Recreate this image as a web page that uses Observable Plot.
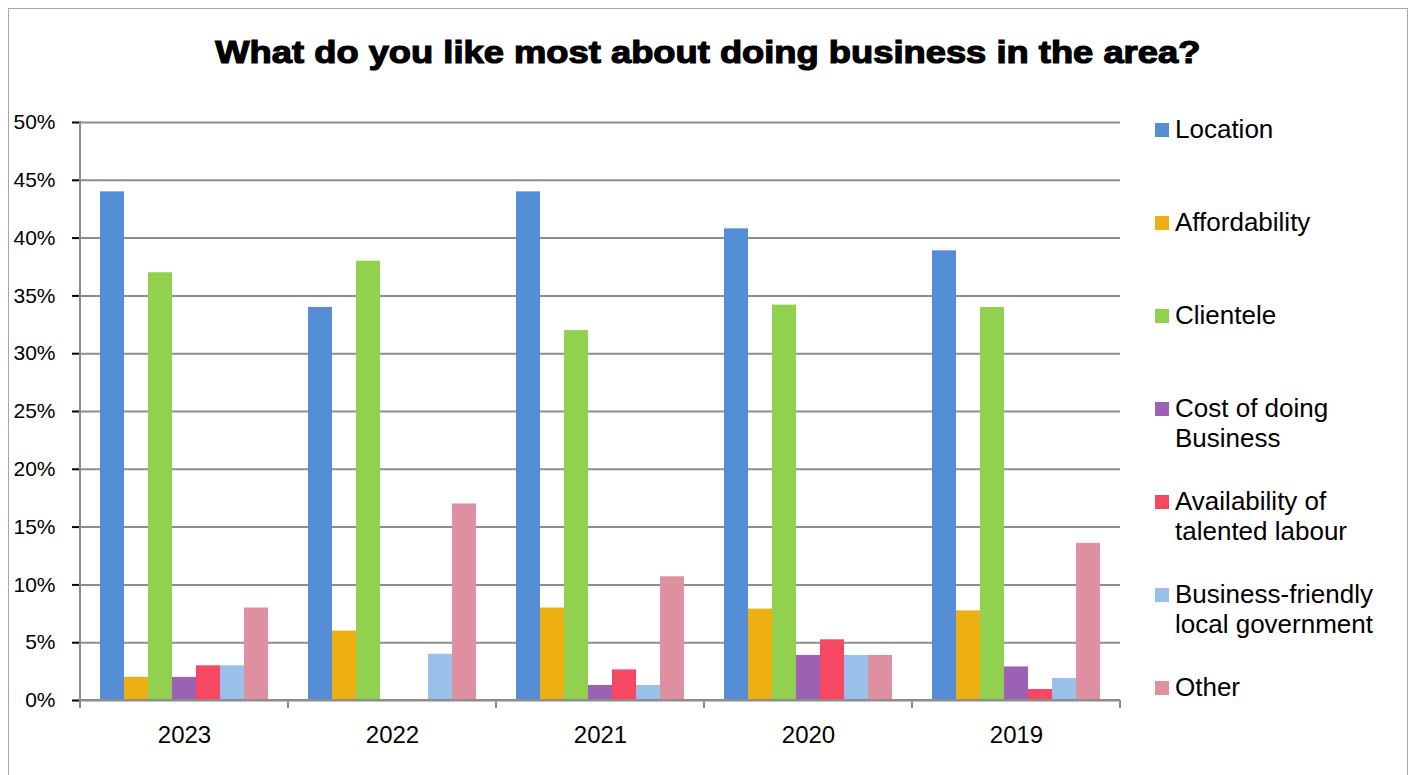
<!DOCTYPE html>
<html>
<head>
<meta charset="utf-8">
<script src="https://cdn.jsdelivr.net/npm/d3@7"></script>
<script src="https://cdn.jsdelivr.net/npm/@observablehq/plot@0.6"></script>
<style>
  html, body { margin: 0; padding: 0; background: #fff; }
  #wrap { position: relative; width: 1416px; height: 775px; overflow: hidden; font-family: "Liberation Sans", Arial, sans-serif; }
  #border { position: absolute; left: 8px; top: 8px; width: 1400px; height: 790px; border: 1.5px solid #a6a6a6; box-sizing: border-box; }
  #titlebox { position: absolute; left: 0; top: 36px; width: 1416px; text-align: center; }
  #title { display: inline-block; font-size: 32px; line-height: 1; font-weight: bold; color: #000; -webkit-text-stroke: 1.2px #000; transform-origin: center; white-space: nowrap; }
  #chart { position: absolute; left: 0; top: 0; }
  #legend { position: absolute; left: 1155px; top: 114px; }
  .item { position: absolute; left: 0; display: flex; align-items: flex-start; }
  .sw { width: 14px; height: 14px; margin-top: 9px; margin-right: 6px; flex: none; }
  .lab { font-size: 26px; line-height: 30px; color: #000; white-space: nowrap; }
  svg [aria-label="y-axis tick"] { stroke: #8c8c8c; stroke-width: 2px; }
  svg [aria-label="y-axis tick label"] { font-size: 21px; }
  svg [aria-label="fx-axis tick label"] { font-size: 24px; }
</style>
</head>
<body>
<div id="wrap">
  <div id="border"></div>
  <div id="chart"></div>
  <div id="titlebox"><span id="title">What do you like most about doing business in the area?</span></div>
  <div id="legend"></div>
</div>
<script>
const years = ["2023", "2022", "2021", "2020", "2019"];
const series = ["Location", "Affordability", "Clientele", "Cost of doing Business", "Availability of talented labour", "Business-friendly local government", "Other"];
const legendLabels = ["Location", "Affordability", "Clientele", "Cost of doing<br>Business", "Availability of<br>talented labour", "Business-friendly<br>local government", "Other"];
const colors = ["#558ED5", "#EEAF12", "#92D050", "#9B62B4", "#F64862", "#99C0EA", "#DE8FA0"];

// values in percent, per series, in the order of years
const location_ = [44, 34, 44, 40.8, 38.9];
const affordability = [2, 6, 8, 7.9, 7.75];
const clientele = [37, 38, 32, 34.2, 34];
const costOfBusiness = [2, 0, 1.3, 3.9, 2.9];
const talentedLabour = [3, 0, 2.65, 5.25, 0.95];
const businessFriendly = [3, 4, 1.3, 3.9, 1.9];
const other = [8, 17, 10.7, 3.9, 13.6];

const yTicks = [0, 0.05, 0.1, 0.15, 0.2, 0.25, 0.3, 0.35, 0.4, 0.45, 0.5];

const valueArrays = [location_, affordability, clientele, costOfBusiness, talentedLabour, businessFriendly, other];
const data = [];
years.forEach((yr, i) => {
  series.forEach((s, j) => {
    data.push({ year: yr, series: s, value: valueArrays[j][i] / 100 });
  });
});

const plot = Plot.plot({
  width: 1416,
  height: 775,
  marginLeft: 80,
  marginRight: 296,
  marginTop: 122,
  marginBottom: 75,
  style: { fontFamily: "'Liberation Sans', Arial, sans-serif", fontSize: "21px", color: "#000", background: "transparent" },
  fx: { domain: years, padding: 0, label: null, tickSize: 0, tickPadding: 25 },
  x: { domain: series, paddingInner: 0, paddingOuter: 0.74, axis: null },
  y: { domain: [0, 0.5], ticks: yTicks, tickFormat: d3.format(".0%"), label: null, tickSize: 8, tickPadding: 17 },
  color: { domain: series, range: colors },
  facet: { data: data, x: "year" },
  marks: [
    Plot.ruleY(yTicks, { stroke: "#8c8c8c", strokeWidth: 2 }),
    Plot.barY(data, { x: "series", y: "value", fill: "series" })
  ]
});
document.getElementById("chart").appendChild(plot);

// axis lines and category boundary ticks, positioned from Plot's scales
const fx = plot.scale("fx");
const yS = plot.scale("y");
const svg = d3.select(plot);
const y0 = yS.apply(0), y1 = yS.apply(0.5);
const left = fx.apply(years[0]);
const right = fx.apply(years[years.length - 1]) + fx.bandwidth;
const g = svg.append("g").attr("stroke", "#8c8c8c").attr("stroke-width", 2);
g.append("line").attr("x1", left).attr("x2", left).attr("y1", y1 - 1).attr("y2", y0 + 1);
g.append("line").attr("x1", left).attr("x2", right).attr("y1", y0).attr("y2", y0);
years.forEach((yr) => {
  const xb = fx.apply(yr);
  g.append("line").attr("x1", xb).attr("x2", xb).attr("y1", y0).attr("y2", y0 + 8);
});
g.append("line").attr("x1", right).attr("x2", right).attr("y1", y0).attr("y2", y0 + 8);

// title: widen slightly to the reference's wide heavy lettering
const title = document.getElementById("title");
const tw = title.getBoundingClientRect().width;
title.style.transform = `scaleX(${985 / tw})`;

// legend
const legend = document.getElementById("legend");
series.forEach((s, i) => {
  const it = document.createElement("div");
  it.className = "item";
  it.style.top = (i * 93) + "px";
  it.innerHTML = `<div class="sw" style="background:${colors[i]}"></div><div class="lab">${legendLabels[i]}</div>`;
  legend.appendChild(it);
});
</script>
</body>
</html>
